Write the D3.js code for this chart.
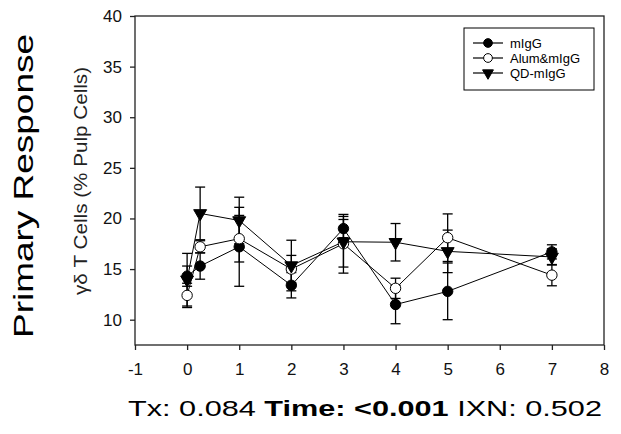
<!DOCTYPE html>
<html>
<head>
<meta charset="utf-8">
<script src="https://cdn.jsdelivr.net/npm/d3@7"></script>
<style>
  body { margin: 0; background: #fff; }
  text { font-family: "Liberation Sans", Arial, sans-serif; }
</style>
</head>
<body>
<div id="chart"></div>
<script>
const w = 621;
const h = 434;

// time points (days)
const days = [0, 0.25, 1, 2, 3, 4, 5, 7];

// % pulp cells, means and error (one SD/SE) per series
const migg = [14.3, 15.3, 17.2, 13.4, 19.0, 11.5, 12.8, 16.7];
const miggErr = [1.0, 1.3, 3.9, 1.25, 0.9, 1.9, 2.8, 0.7];
const alum = [12.4, 17.2, 18.0, 15.0, 17.5, 13.1, 18.1, 14.4];
const alumErr = [1.2, 0.6, 2.3, 1.35, 2.9, 1.0, 2.35, 1.05];
const qd = [13.95, 20.5, 19.8, 15.35, 17.7, 17.65, 16.75, 16.2];
const qdErr = [2.6, 2.6, 2.3, 2.5, 2.5, 1.85, 2.1, 0.8];

const seriesNames = ["mIgG", "Alum&mIgG", "QD-mIgG"];
const xTicks = [-1, 0, 1, 2, 3, 4, 5, 6, 7, 8];
const yTicks = [10, 15, 20, 25, 30, 35, 40];

const series = [
  { name: seriesNames[0], values: migg, err: miggErr, shape: "circle", fill: "#000" },
  { name: seriesNames[1], values: alum, err: alumErr, shape: "circle", fill: "#fff" },
  { name: seriesNames[2], values: qd, err: qdErr, shape: "triangle", fill: "#000" }
];

const plot = { left: 135, top: 16, right: 604, bottom: 345 };

const svg = d3.select("#chart")
  .append("svg")
  .attr("width", w)
  .attr("height", h);

const x = d3.scaleLinear().domain([-1, 8]).range([plot.left, plot.right]);
const y = d3.scaleLinear().domain([7.5, 40]).range([plot.bottom, plot.top]);

function markerPath(shape, size) {
  if (shape === "circle") return d3.symbol().type(d3.symbolCircle).size(size)();
  return d3.symbol().type(d3.symbolTriangle).size(size * 0.85)();
}

// frame
svg.append("rect")
  .attr("x", plot.left)
  .attr("y", plot.top)
  .attr("width", plot.right - plot.left)
  .attr("height", plot.bottom - plot.top)
  .attr("fill", "none")
  .attr("stroke", "#222")
  .attr("stroke-width", 1.3);

// axes (plain hyphen for negatives, like the original)
const xAxis = svg.append("g")
  .attr("transform", `translate(0, ${plot.bottom})`)
  .call(d3.axisBottom(x).tickValues(xTicks).tickFormat(d => String(d))
    .tickSize(5).tickPadding(13).tickSizeOuter(0));

const yAxis = svg.append("g")
  .attr("transform", `translate(${plot.left}, 0)`)
  .call(d3.axisLeft(y).tickValues(yTicks).tickFormat(d => String(d))
    .tickSize(5).tickPadding(8).tickSizeOuter(0));

[xAxis, yAxis].forEach(g => {
  g.select(".domain").remove();
  g.selectAll(".tick line").attr("stroke", "#222").attr("stroke-width", 1.3);
  g.selectAll(".tick text")
    .attr("fill", "#111")
    .style("font-size", "17px")
    .style("font-family", "'Liberation Sans', Arial, sans-serif");
});

// lines
const line = d3.line()
  .x((d, i) => x(days[i]))
  .y(d => y(d));

series.forEach(s => {
  svg.append("path")
    .datum(s.values)
    .attr("d", line)
    .attr("fill", "none")
    .attr("stroke", "#000")
    .attr("stroke-width", 1);
});

// error bars
series.forEach(s => {
  const g = svg.append("g");
  s.values.forEach((v, i) => {
    const cx = x(days[i]);
    const top = y(v + s.err[i]);
    const bot = y(v - s.err[i]);
    g.append("line").attr("x1", cx).attr("x2", cx).attr("y1", top).attr("y2", bot);
    g.append("line").attr("x1", cx - 5).attr("x2", cx + 5).attr("y1", top).attr("y2", top);
    g.append("line").attr("x1", cx - 5).attr("x2", cx + 5).attr("y1", bot).attr("y2", bot);
  });
  g.selectAll("line").attr("stroke", "#000").attr("stroke-width", 1.3);
});

// markers
series.forEach(s => {
  svg.append("g")
    .selectAll("path")
    .data(s.values)
    .join("path")
    .attr("d", markerPath(s.shape, 85))
    .attr("transform", (d, i) => `translate(${x(days[i])}, ${y(d)})` + (s.shape === "triangle" ? " rotate(180)" : ""))
    .attr("fill", s.fill)
    .attr("stroke", "#000")
    .attr("stroke-width", 1);
});

// legend
const legend = svg.append("g");
legend.append("rect")
  .attr("x", 464).attr("y", 28)
  .attr("width", 130).attr("height", 62)
  .attr("fill", "#fff")
  .attr("stroke", "#000")
  .attr("stroke-width", 1);

series.forEach((s, i) => {
  const ly = 43 + i * 15;
  legend.append("line")
    .attr("x1", 473).attr("x2", 503)
    .attr("y1", ly).attr("y2", ly)
    .attr("stroke", "#000").attr("stroke-width", 1.2);
  legend.append("path")
    .attr("d", markerPath(s.shape, 60))
    .attr("transform", `translate(488, ${ly})` + (s.shape === "triangle" ? " rotate(180)" : ""))
    .attr("fill", s.fill)
    .attr("stroke", "#000")
    .attr("stroke-width", 1);
  legend.append("text")
    .attr("x", 510).attr("y", ly)
    .attr("dy", "0.35em")
    .attr("fill", "#000")
    .style("font-size", "13px")
    .text(s.name);
});

// y axis title
svg.append("text")
  .attr("transform", "translate(87, 181) rotate(-90)")
  .attr("text-anchor", "middle")
  .attr("fill", "#222")
  .attr("textLength", 228)
  .attr("lengthAdjust", "spacingAndGlyphs")
  .style("font-size", "18px")
  .text("γδ T Cells (% Pulp Cells)");

// panel title
svg.append("text")
  .attr("transform", "translate(33, 186) rotate(-90)")
  .attr("text-anchor", "middle")
  .attr("fill", "#000")
  .attr("textLength", 304)
  .attr("lengthAdjust", "spacingAndGlyphs")
  .style("font-size", "28px")
  .text("Primary Response");

// statistics line
const stats = svg.append("text")
  .attr("x", 128)
  .attr("y", 416)
  .attr("fill", "#000")
  .attr("textLength", 474)
  .attr("lengthAdjust", "spacingAndGlyphs")
  .style("font-size", "22px");
stats.append("tspan").text("Tx: 0.084 ");
stats.append("tspan").attr("font-weight", "bold").text("Time: <0.001");
stats.append("tspan").text(" IXN: 0.502");
</script>
</body>
</html>
